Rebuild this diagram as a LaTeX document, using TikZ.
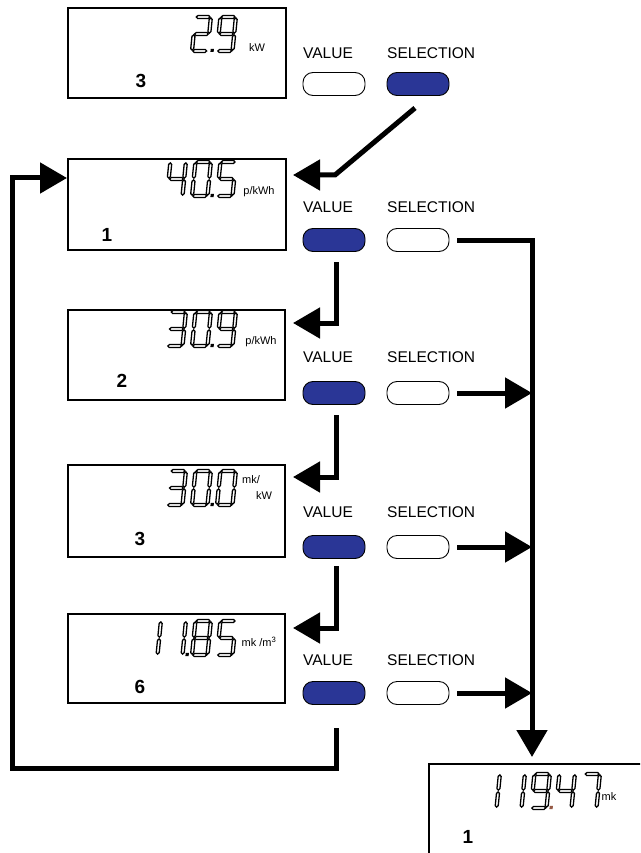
\documentclass[tikz,border=0pt]{standalone}
\usepackage{fontspec}
\setmainfont{Liberation Sans}
\usetikzlibrary{arrows.meta}
\definecolor{btnblue}{RGB}{42,54,150}
\definecolor{dotbrown}{RGB}{150,90,70}
\newcommand\lcdW{15.5}
\newcommand\lcdH{34}
\newcommand\lcdT{1.5}
\newcommand\lcdG{0.9}
\newcommand\hsegment[1]{\path[seg] (\lcdG,{#1}) -- ({\lcdG+\lcdT},{#1+\lcdT}) -- ({\lcdW-\lcdG-\lcdT},{#1+\lcdT}) -- ({\lcdW-\lcdG},{#1}) -- ({\lcdW-\lcdG-\lcdT},{#1-\lcdT}) -- ({\lcdG+\lcdT},{#1-\lcdT}) -- cycle;}
\newcommand\vsegment[3]{\path[seg] ({#1},{#2+\lcdG}) -- ({#1+\lcdT},{#2+\lcdG+\lcdT}) -- ({#1+\lcdT},{#3-\lcdG-\lcdT}) -- ({#1},{#3-\lcdG}) -- ({#1-\lcdT},{#3-\lcdG-\lcdT}) -- ({#1-\lcdT},{#2+\lcdG+\lcdT}) -- cycle;}
\newcommand\segA{\hsegment{\lcdH}}
\newcommand\segG{\hsegment{\lcdH/2}}
\newcommand\segD{\hsegment{0}}
\newcommand\segB{\vsegment{\lcdW}{\lcdH/2}{\lcdH}}
\newcommand\segC{\vsegment{\lcdW}{0}{\lcdH/2}}
\newcommand\segE{\vsegment{0}{0}{\lcdH/2}}
\newcommand\segF{\vsegment{0}{\lcdH/2}{\lcdH}}
\newcommand\lcdzero{\segA\segB\segC\segD\segE\segF}
\newcommand\lcdone{\segB\segC}
\newcommand\lcdtwo{\segA\segB\segG\segE\segD}
\newcommand\lcdthree{\segA\segB\segG\segC\segD}
\newcommand\lcdfour{\segF\segG\segB\segC}
\newcommand\lcdfive{\segA\segF\segG\segC\segD}
\newcommand\lcdseven{\segA\segB\segC}
\newcommand\lcdeight{\segA\segB\segC\segD\segE\segF\segG}
\newcommand\lcdnine{\segA\segB\segC\segD\segF\segG}
\newcommand\lcddigit[3]{\begin{scope}[shift={(#1,#2)},y=1pt,xslant=0.1]#3\end{scope}}
\newcommand\lcddot[3]{\begin{scope}[shift={(#1,#2)},y=1pt,xslant=0.1]\fill[#3] ({\lcdW+3},-1) rectangle ++(3.2,3.2);\end{scope}}
\begin{document}
\begin{tikzpicture}[x=1pt,y=-1pt,
  lcdbox/.style={draw=black, line width=1.6pt, anchor=north west, inner sep=0pt},
  btn/.style={draw=black, line width=0.9pt, rounded corners=10pt, minimum width=62pt, minimum height=23pt, inner sep=0pt},
  on/.style={btn, fill=btnblue},
  off/.style={btn, fill=white},
  blabel/.style={font=\fontsize{15.5}{16}\selectfont, anchor=west, inner sep=0pt},
  numlabel/.style={font=\bfseries\fontsize{19}{20}\selectfont, inner sep=0pt},
  unit/.style={font=\fontsize{11}{11}\selectfont, inner sep=0pt},
  flow/.style={line width=5pt, -{Triangle[length=27pt,width=30pt]}},
  seg/.style={fill=white, draw=black, line width=1.3pt, line join=miter}
]
\useasboundingbox (0,0) rectangle (640,853);
\fill[white] (0,0) rectangle (640,853);
\begin{scope}
\clip (0,0) rectangle (640,853);
% display boxes
\node[lcdbox, minimum width=218pt, minimum height=90pt] (d0) at (67,7) {};
\node[lcdbox, minimum width=218pt, minimum height=91pt] (d1) at (67,158) {};
\node[lcdbox, minimum width=217pt, minimum height=90pt] (d2) at (67,309) {};
\node[lcdbox, minimum width=217pt, minimum height=92pt] (d3) at (67,464) {};
\node[lcdbox, minimum width=217pt, minimum height=89pt] (d4) at (67,613) {};
\node[lcdbox, minimum width=260pt, minimum height=120pt] (d5) at (428,763) {};
\end{scope}

% digits
\lcddigit{192}{51}{\lcdtwo}\lcddot{192}{51}{black}\lcddigit{217}{51}{\lcdnine}
\lcddigit{167}{196}{\lcdfour}\lcddigit{192}{196}{\lcdzero}\lcddot{192}{196}{black}\lcddigit{217}{196}{\lcdfive}
\lcddigit{167}{346}{\lcdthree}\lcddigit{192}{346}{\lcdzero}\lcddot{192}{346}{black}\lcddigit{217}{346}{\lcdnine}
\lcddigit{167}{505}{\lcdthree}\lcddigit{192}{505}{\lcdzero}\lcddot{192}{505}{black}\lcddigit{217}{505}{\lcdzero}
\lcddigit{142}{655}{\lcdone}\lcddigit{167}{655}{\lcdone}\lcddot{167}{655}{black}\lcddigit{192}{655}{\lcdeight}\lcddigit{217}{655}{\lcdfive}
\lcddigit{481}{808}{\lcdone}\lcddigit{506}{808}{\lcdone}\lcddigit{531}{808}{\lcdnine}\lcddot{531}{808}{dotbrown}\lcddigit{556}{808}{\lcdfour}\lcddigit{581}{808}{\lcdseven}

% units
\node[unit] (u0) at (257,48) {kW};
\node[unit] (u1) at (259,192) {p/kWh};
\node[unit] (u2) at (261,342) {p/kWh};
\node[unit] (u3a) at (251,480) {mk/};
\node[unit] (u3b) at (264,496) {kW};
\node[unit] (u4) at (259,642) {mk /m\textsuperscript{3}};
\node[unit] (u5) at (609,797) {mk};

% number labels
\node[numlabel] (n0) at (141,81) {3};
\node[numlabel] (n1) at (107,235) {1};
\node[numlabel] (n2) at (122,381) {2};
\node[numlabel] (n3) at (140,539) {3};
\node[numlabel] (n4) at (140,687) {6};
\node[numlabel] (n5) at (468,837) {1};

% button labels and buttons
\foreach \r/\ly/\by/\vs/\ss in {0/53/84/off/on, 1/207/240/on/off, 2/357/393/on/off, 3/512/547/on/off, 4/660/693/on/off}{
  \node[blabel] (lv\r) at (303,\ly) {VALUE};
  \node[blabel] (ls\r) at (387,\ly) {SELECTION};
  \node[\vs] (v\r) at (334,\by) {};
  \node[\ss] (s\r) at (418,\by) {};
}

% connector coordinates
\coordinate (a0) at (415,108);
\coordinate (k0) at (335,175);
\coordinate (t1) at (293,175);
\coordinate (a1) at (336,262);
\coordinate (k1) at (336,323);
\coordinate (t2) at (293,323);
\coordinate (a2) at (336,415);
\coordinate (k2) at (336,477);
\coordinate (t3) at (293,477);
\coordinate (a3) at (336,566);
\coordinate (k3) at (336,628);
\coordinate (t4) at (293,628);
\coordinate (a4) at (336,728);
\coordinate (k4) at (336,768);
\coordinate (k5) at (12,768);
\coordinate (k6) at (12,178);
\coordinate (t0) at (67,178);
\coordinate (b1) at (457,240);
\coordinate (m1) at (532,240);
\coordinate (t5) at (532,757);
\coordinate (b2) at (457,393);
\coordinate (m2) at (532,393);
\coordinate (b3) at (457,547);
\coordinate (m3) at (532,547);
\coordinate (b4) at (457,693);
\coordinate (m4) at (532,693);

\draw[flow] (a0) -- (k0) -- (t1);
\draw[flow] (a1) -- (k1) -- (t2);
\draw[flow] (a2) -- (k2) -- (t3);
\draw[flow] (a3) -- (k3) -- (t4);
\draw[flow] (a4) -- (k4) -- (k5) -- (k6) -- (t0);
\draw[flow] (b1) -- (m1) -- (t5);
\draw[flow] (b2) -- (m2);
\draw[flow] (b3) -- (m3);
\draw[flow] (b4) -- (m4);
\end{tikzpicture}
\end{document}
